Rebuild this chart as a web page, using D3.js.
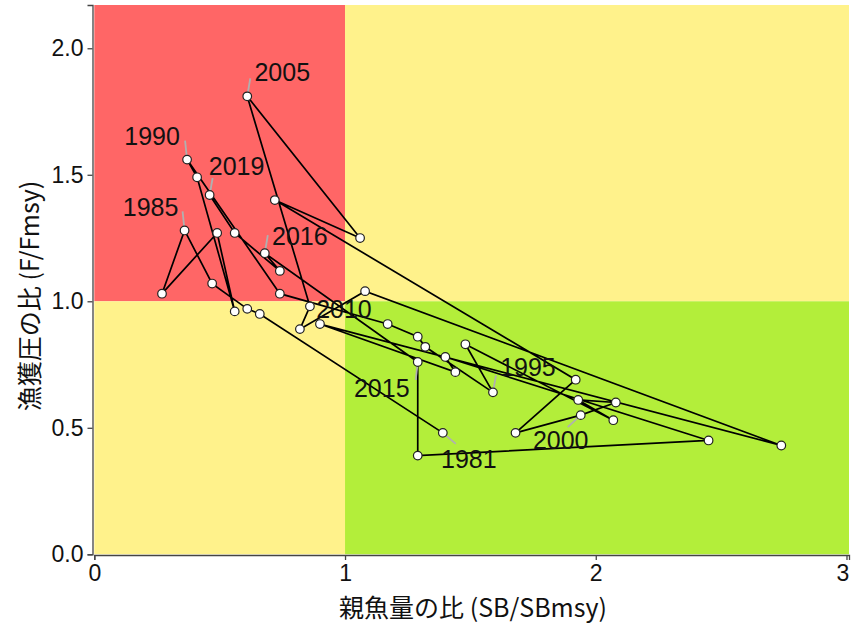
<!DOCTYPE html>
<html>
<head>
<meta charset="utf-8">
<script src="https://cdn.jsdelivr.net/npm/d3@7"></script>
<style>
  body { margin: 0; background: #fff; }
  svg text { font-family: "Liberation Sans", Arial, sans-serif; }
</style>
</head>
<body>
<svg id="chart" width="851" height="623"></svg>
<script>
'use strict';

// values, one entry per year
const years = d3.range(1981, 2020);
const sbRatio = [1.39, 0.66, 0.61, 0.47, 0.36, 0.27, 0.49, 0.56, 0.41, 0.37,
                 0.74, 1.17, 1.29, 1.32, 1.59, 1.48, 2.07, 1.93, 2.08, 1.94,
                 1.68, 1.92, 0.72, 1.06, 0.61, 0.86, 0.82, 1.08, 2.74, 0.90,
                 1.44, 1.40, 2.45, 1.29, 1.29, 0.68, 0.74, 0.56, 0.46];
const fRatio = [0.48, 0.95, 0.97, 1.07, 1.28, 1.03, 1.27, 0.96, 1.49, 1.56,
                1.03, 0.91, 0.86, 0.82, 0.64, 0.83, 0.53, 0.61, 0.60, 0.55,
                0.48, 0.69, 1.40, 1.25, 1.81, 0.98, 0.89, 1.04, 0.43, 0.91,
                0.72, 0.78, 0.45, 0.39, 0.76, 1.19, 1.12, 1.27, 1.42];
const labelYears = [1981, 1985, 1990, 1995, 2000, 2005, 2010, 2015, 2016, 2019];
const xTicks = [0, 1, 2, 3];
const yTicks = [0, 0.5, 1, 1.5, 2];

// label placement (pixel offsets from the point): text centre and end of leader
const labelPos = {
  1981: { dx: 26, dy: 26, lx: 13, ly: 11 },
  1985: { dx: -34, dy: -23, lx: -2, ly: -19 },
  1990: { dx: -35, dy: -24, lx: -2, ly: -19 },
  1995: { dx: 35, dy: -25, lx: 3, ly: -17 },
  2000: { dx: -20, dy: 25, lx: -13, ly: 12 },
  2005: { dx: 35, dy: -24, lx: 3, ly: -18 },
  2010: { dx: 24, dy: -15, lx: 0, ly: 0 },
  2015: { dx: -36, dy: 26, lx: -2, ly: 18 },
  2016: { dx: 35, dy: -17, lx: 3, ly: -18 },
  2019: { dx: 27, dy: -29, lx: 3, ly: -17 }
};

const xMax = 3.01, yMax = 2.171;
const x = d3.scaleLinear().domain([0, xMax]).range([94.3, 849]);
const y = d3.scaleLinear().domain([0, yMax]).range([554.3, 5]);

const svg = d3.select("#chart");

// zones
const zones = [
  { x0: 0, x1: 1, y0: 1, y1: yMax, fill: "#FF6666" },
  { x0: 1, x1: xMax, y0: 1, y1: yMax, fill: "#FFF28B" },
  { x0: 0, x1: 1, y0: 0, y1: 1, fill: "#FFF28B" },
  { x0: 1, x1: xMax, y0: 0, y1: 1, fill: "#B3EE3A" }
];
svg.append("g").selectAll("rect")
  .data(zones)
  .enter().append("rect")
  .attr("x", d => x(d.x0))
  .attr("y", d => y(d.y1))
  .attr("width", d => x(d.x1) - x(d.x0))
  .attr("height", d => y(d.y0) - y(d.y1))
  .attr("fill", d => d.fill);

const data = years.map((yr, i) => ({ year: yr, sb: sbRatio[i], f: fRatio[i] }));

// trajectory
const line = d3.line().x(d => x(d.sb)).y(d => y(d.f));
svg.append("path")
  .datum(data)
  .attr("d", line)
  .attr("fill", "none")
  .attr("stroke", "#000")
  .attr("stroke-width", 1.7);

// leader lines
const labelled = data.filter(d => labelYears.includes(d.year));
svg.append("g").selectAll("line")
  .data(labelled.filter(d => labelPos[d.year].lx !== 0 || labelPos[d.year].ly !== 0))
  .enter().append("line")
  .attr("x1", d => x(d.sb))
  .attr("y1", d => y(d.f))
  .attr("x2", d => x(d.sb) + labelPos[d.year].lx)
  .attr("y2", d => y(d.f) + labelPos[d.year].ly)
  .attr("stroke", "#b0b0b0")
  .attr("stroke-width", 1.8);

// points
svg.append("g").selectAll("circle")
  .data(data)
  .enter().append("circle")
  .attr("cx", d => x(d.sb))
  .attr("cy", d => y(d.f))
  .attr("r", 4.3)
  .attr("fill", "#fff")
  .attr("stroke", "#222")
  .attr("stroke-width", 1.2);

// year labels
svg.append("g").selectAll("text")
  .data(labelled)
  .enter().append("text")
  .attr("x", d => x(d.sb) + labelPos[d.year].dx)
  .attr("y", d => y(d.f) + labelPos[d.year].dy)
  .attr("text-anchor", "middle")
  .attr("dominant-baseline", "central")
  .style("font-size", "25px")
  .attr("fill", "#111")
  .text(d => d.year);

// axes
const xAxis = svg.append("g")
  .attr("transform", "translate(0," + 555 + ")")
  .call(d3.axisBottom(x).tickValues(xTicks).tickFormat(d3.format("d")).tickSize(5).tickPadding(5));
const yAxis = svg.append("g")
  .attr("transform", "translate(" + 92.5 + ",0)")
  .call(d3.axisLeft(y).tickValues(yTicks).tickFormat(d3.format(".1f")).tickSize(5).tickPadding(4));

[xAxis, yAxis].forEach(g => {
  g.select(".domain").attr("stroke", "#444").attr("stroke-width", 1.3);
  g.selectAll(".tick line").attr("stroke", "#444").attr("stroke-width", 1.3);
  g.selectAll(".tick text")
    .attr("fill", "#111")
    .style("font-size", "23px")
    .style("font-family", "'Liberation Sans', Arial, sans-serif");
});
// keep the last x tick label inside the picture
xAxis.selectAll(".tick text").filter(d => d === 3).attr("dx", "-4");

// axis titles
svg.append("text")
  .attr("x", 473)
  .attr("y", 606)
  .attr("text-anchor", "middle")
  .attr("dominant-baseline", "central")
  .style("font-family", "'Noto Sans CJK JP', sans-serif")
  .style("font-size", "25px")
  .attr("fill", "#111")
  .text("親魚量の比 (SB/SBmsy)");

svg.append("text")
  .attr("transform", "translate(28," + 296 + ") rotate(-90)")
  .attr("text-anchor", "middle")
  .attr("dominant-baseline", "central")
  .style("font-family", "'Noto Sans CJK JP', sans-serif")
  .style("font-size", "25px")
  .attr("fill", "#111")
  .text("漁獲圧の比 (F/Fmsy)");
</script>
</body>
</html>
